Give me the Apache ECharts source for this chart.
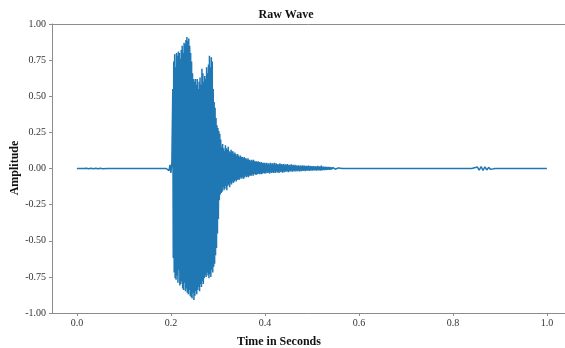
<!DOCTYPE html>
<html>
<head>
<meta charset="utf-8">
<script src="https://cdn.jsdelivr.net/npm/echarts@6/dist/echarts.min.js"></script>
<style>
html,body{margin:0;padding:0;background:#fff;}
#chart{width:565px;height:348px;}
</style>
</head>
<body>
<div id="chart"></div>
<script>
// ---- data ----
const xTickValues = [0.0, 0.2, 0.4, 0.6, 0.8, 1.0];

// silent points (amplitude 0)
const quietTimes = [0.0, 0.015, 0.065, 0.19, 0.565, 0.84, 0.89, 1.0];

// faint noise near the start
const noiseStart = 0.02;
const noiseStep = 0.005;
const noiseValues = [0.0015, -0.002, 0.002, -0.0015, 0.0015, -0.002, 0.0015, -0.001];

// just before onset
const preStart = 0.194;
const preStep = 0.002;
const preValues = [0.008, -0.015, 0.025, -0.03, 0.04];

// main burst (start 0.204 s, step 0.001 s)
const burstStart = 0.204;
const burstStep = 0.001;
const burstValues = [
  0.55, -0.62, 0.74, -0.72, 0.79, -0.76, 0.70, -0.77, 0.80, -0.74,
  0.78, -0.79, 0.81, -0.70, 0.80, -0.81, 0.76, -0.80, 0.82, -0.78,
  0.85, -0.83, 0.80, -0.84, 0.87, -0.79, 0.86, -0.85, 0.89, -0.83,
  0.91, -0.86, 0.88, -0.87, 0.90, -0.84, 0.85, -0.88, 0.80, -0.89,
  0.74, -0.90, 0.66, -0.86, 0.62, -0.91, 0.60, -0.88, 0.62, -0.85,
  0.58, -0.87, 0.62, -0.84, 0.55, -0.82, 0.60, -0.85, 0.63, -0.80,
  0.58, -0.82, 0.69, -0.78, 0.66, -0.80, 0.60, -0.76, 0.64, -0.74,
  0.62, -0.75, 0.70, -0.72, 0.66, -0.74, 0.72, -0.76, 0.78, -0.73,
  0.70, -0.75, 0.77, -0.70, 0.74, -0.72, 0.55, -0.68, 0.46, -0.66,
  0.42, -0.60, 0.35, -0.55, 0.30, -0.45, 0.28
];

// decay (start 0.301 s, step 0.001 s)
const decayStart = 0.301;
const decayStep = 0.001;
const decayValues = [
  -0.35, 0.26, -0.22, 0.24, -0.18, 0.20, -0.17, 0.15, -0.16, 0.17,
  -0.13, 0.14, -0.15, 0.12, -0.14, 0.16, -0.12, 0.14, -0.15, 0.13,
  -0.12, 0.15, -0.11, 0.12, -0.13, 0.11, -0.10, 0.13, -0.11, 0.12,
  -0.09, 0.12, -0.10, 0.10, -0.09, 0.11, -0.08, 0.10, -0.09, 0.09,
  -0.08, 0.10, -0.07, 0.09, -0.08, 0.08, -0.07, 0.09, -0.06, 0.08,
  -0.07, 0.08, -0.06, 0.07, -0.07, 0.08, -0.06, 0.07, -0.05, 0.07,
  -0.06, 0.06, -0.05, 0.07, -0.06, 0.06, -0.05, 0.06, -0.05, 0.05,
  -0.05, 0.06, -0.04, 0.05, -0.05, 0.06, -0.04, 0.05, -0.04, 0.05,
  -0.045, 0.05, -0.04, 0.045, -0.04, 0.05, -0.035, 0.045, -0.04, 0.04,
  -0.035, 0.045, -0.04, 0.04, -0.035, 0.04, -0.03, 0.04, -0.035, 0.04
];

// tail (start 0.402 s, step 0.002 s)
const tailStart = 0.402;
const tailStep = 0.002;
const tailValues = [
  -0.035, 0.04, -0.03, 0.035, -0.035, 0.04, -0.03, 0.035, -0.03, 0.04,
  -0.03, 0.035, -0.028, 0.03, -0.03, 0.035, -0.025, 0.03, -0.028, 0.03,
  -0.025, 0.028, -0.022, 0.03, -0.025, 0.025, -0.02, 0.028, -0.022, 0.025,
  -0.02, 0.025, -0.02, 0.022, -0.018, 0.022, -0.02, 0.02, -0.018, 0.022,
  -0.016, 0.02, -0.018, 0.018, -0.015, 0.02, -0.016, 0.018, -0.014, 0.016,
  -0.014, 0.016, -0.012, 0.015, -0.014, 0.018, -0.012, 0.014, -0.015, 0.02,
  -0.012, 0.012, -0.01, 0.012, -0.01, 0.01, -0.009, 0.01, -0.008, 0.008,
  -0.007, 0.007, -0.006, 0.006, -0.005, 0.005, -0.004, 0.004, -0.003, 0.003
];

// small blip later on
const blipStart = 0.852;
const blipStep = 0.004;
const blipValues = [0.01, -0.012, 0.014, -0.014, 0.012, -0.01, 0.008, -0.006, 0.004];

// ---- build series points ----
function seg(start, step, vals) {
  return vals.map((v, i) => [+(start + i * step).toFixed(4), v]);
}
const points = []
  .concat(quietTimes.map(t => [t, 0]))
  .concat(seg(noiseStart, noiseStep, noiseValues))
  .concat(seg(preStart, preStep, preValues))
  .concat(seg(burstStart, burstStep, burstValues))
  .concat(seg(decayStart, decayStep, decayValues))
  .concat(seg(tailStart, tailStep, tailValues))
  .concat(seg(blipStart, blipStep, blipValues))
  .sort((a, b) => a[0] - b[0]);

const serif = '"Liberation Serif", "DejaVu Serif", serif';
const spine = '#8c8c8c';
const xMin = -0.053, xMax = 1.0385;
const chart = echarts.init(document.getElementById('chart'), null, {renderer: 'canvas'});
chart.setOption({
  animation: false,
  backgroundColor: '#fff',
  grid: {left: 52, top: 24, width: 513, height: 289, show: false},
  xAxis: [{
    type: 'value', min: xMin, max: xMax, position: 'bottom',
    axisLine: {show: true, onZero: false, lineStyle: {color: spine, width: 1}},
    axisTick: {show: true, inside: false, length: 3, lineStyle: {color: spine}, customValues: xTickValues},
    axisLabel: {
      customValues: xTickValues, margin: 5,
      fontFamily: serif, fontSize: 10, color: '#333',
      formatter: v => v.toFixed(1)
    },
    splitLine: {show: false}
  }, {
    type: 'value', min: xMin, max: xMax, position: 'top',
    axisLine: {show: true, onZero: false, lineStyle: {color: spine, width: 1}},
    axisTick: {show: false}, axisLabel: {show: false}, splitLine: {show: false}
  }],
  yAxis: {
    type: 'value', min: -1, max: 1, interval: 0.25,
    axisLine: {show: true, onZero: false, lineStyle: {color: spine, width: 1}},
    axisTick: {show: true, inside: false, length: 3, lineStyle: {color: spine}},
    axisLabel: {
      margin: 6, fontFamily: serif, fontSize: 10, color: '#333',
      formatter: v => v.toFixed(2)
    },
    splitLine: {show: false}
  },
  series: [{
    type: 'line',
    xAxisIndex: 0,
    data: points,
    showSymbol: false,
    symbol: 'none',
    sampling: null,
    lineStyle: {color: '#1f77b4', width: 1.5},
    itemStyle: {color: '#1f77b4'},
    clip: true
  }],
  graphic: [
    {type: 'text', x: 286, y: 15, style: {text: 'Raw Wave', textAlign: 'center', textVerticalAlign: 'middle', font: 'bold 12px ' + serif, fill: '#111'}},
    {type: 'text', x: 279, y: 342, style: {text: 'Time in Seconds', textAlign: 'center', textVerticalAlign: 'middle', font: 'bold 12px ' + serif, fill: '#111'}},
    {type: 'text', x: 15, y: 168, rotation: Math.PI / 2, style: {text: 'Amplitude', textAlign: 'center', textVerticalAlign: 'middle', font: 'bold 12px ' + serif, fill: '#111'}}
  ]
});
</script>
</body>
</html>
